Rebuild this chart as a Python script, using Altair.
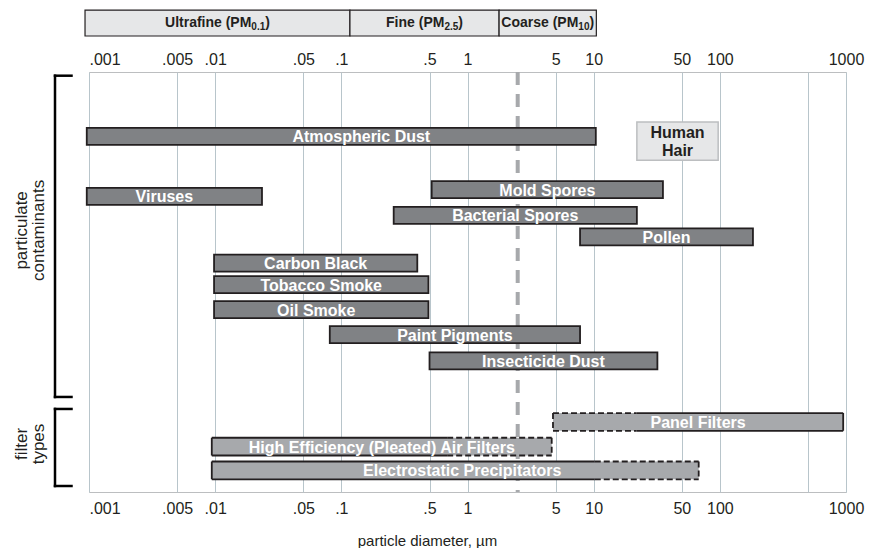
import altair as alt
import pandas as pd

# ---------------- data ----------------
tick_values = [0.001, 0.005, 0.01, 0.05, 0.1, 0.5, 1, 5, 10, 50, 100, 1000]
tick_labels = [".001", ".005", ".01", ".05", ".1", ".5", "1", "5", "10", "50", "100", "1000"]
unlabeled_grid = [500]

size_classes = ["Ultrafine", "Fine", "Coarse"]
class_pm = ["0.1", "2.5", "10"]
class_low = [0.00093, 0.117, 1.78]
class_high = [0.117, 1.78, 10.5]

contaminants = ["Atmospheric Dust", "Viruses", "Mold Spores", "Bacterial Spores", "Pollen",
                "Carbon Black", "Tobacco Smoke", "Oil Smoke", "Paint Pigments", "Insecticide Dust"]
cont_low = [0.00096, 0.00096, 0.52, 0.26, 7.8, 0.0098, 0.0098, 0.0098, 0.081, 0.5]
cont_high = [10.4, 0.0235, 35.4, 22, 183, 0.40, 0.49, 0.49, 7.8, 32]
cont_row = [2.68, 5.18, 4.90, 5.97, 6.87, 7.96, 8.86, 9.90, 10.94, 12.04]

hair_label = ["Human", "Hair"]
hair_low = [22]
hair_high = [97]
hair_row = [2.88]

filters = ["Panel Filters", "High Efficiency (Pleated) Air Filters", "Electrostatic Precipitators"]
filter_low = [4.76, 0.0094, 0.0094]
filter_high = [950, 4.65, 68]
filter_solid_low = [21.9, 0.0094, 0.0094]
filter_solid_high = [950, 0.69, 10.2]
filter_row = [14.58, 15.61, 16.60]

groups = ["particulate\ncontaminants", "filter\ntypes"]
group_top = [0.154, 14.04]
group_bottom = [13.54, 17.25]
group_mid = [6.6, 15.5]

pm_cut = [2.5]

# ---------------- style ----------------
FONT = "Liberation Sans"
INK = "#231f20"
CONT_FILL = "#808285"
FILT_FILL = "#a7a9ac"
LIGHT = "#e6e7e8"
GRID = "#b8c5cb"
HEADER_ROW = -2.04
HEADER_HALF = 0.54
BAR_HALF = 0.354
FILT_HALF = 0.37
HAIR_HALF = 0.80
HDR_SIZE = 14
SUB_SIZE = 10
label_dx = {"Atmospheric Dust": 20, "Viruses": -10, "Oil Smoke": -5, "Electrostatic Precipitators": 7}

# Arial/Liberation Sans Bold advance widths (1/1000 em) for the header strings
ADV = {"U": 722, "l": 278, "t": 333, "r": 389, "a": 556, "f": 333, "i": 278, "n": 611, "e": 556,
       " ": 278, "(": 333, ")": 333, "P": 667, "M": 833, "F": 611, "C": 722, "o": 611, "s": 556,
       ".": 278}


def text_w(s, size):
    return sum(ADV.get(ch, 556) for ch in s) / 1000.0 * size


x_scale = alt.Scale(type="log", domain=[0.001, 1000], nice=False)
y_scale = alt.Scale(domain=[0, 17.5], reverse=True, nice=False, zero=False)

all_ticks = tick_values + unlabeled_grid
label_expr = ("indexof(%s, datum.value) >= 0 ? %s[indexof(%s, datum.value)] : ''"
              % (str(tick_values), str(tick_labels), str(tick_values)))
flush_first = {"condition": {"test": "datum.value <= 0.001", "value": "left"}, "value": "center"}

top_axis = alt.Axis(orient="top", values=all_ticks, labelExpr=label_expr, grid=True,
                    gridColor=GRID, gridWidth=1, ticks=False, domain=False,
                    labelFont=FONT, labelFontSize=16, labelColor=INK, labelPadding=8,
                    labelBaseline="alphabetic", labelFlush=False, labelAlign=flush_first,
                    title=None)
bottom_axis = alt.Axis(orient="bottom", values=tick_values, labelExpr=label_expr, grid=False,
                       ticks=False, domain=False, labelFont=FONT, labelFontSize=16,
                       labelColor=INK, labelPadding=8, labelFlush=False, labelAlign=flush_first,
                       title="particle diameter, µm", titleFont=FONT, titleFontSize=15,
                       titleFontWeight="normal", titleColor=INK, titleX=338, titleY=53,
                       titleAlign="center", titleBaseline="alphabetic")

# ---------------- frames ----------------
cont_df = pd.DataFrame({"name": contaminants, "lo": cont_low, "hi": cont_high, "row": cont_row})
cont_df["y0"] = cont_df["row"] - BAR_HALF
cont_df["y1"] = cont_df["row"] + BAR_HALF

hdr_df = pd.DataFrame({"name": size_classes, "pm": class_pm, "lo": class_low, "hi": class_high})
hdr_df["row"] = HEADER_ROW
hdr_df["y0"] = HEADER_ROW - HEADER_HALF
hdr_df["y1"] = HEADER_ROW + HEADER_HALF

hair_df = pd.DataFrame({"name": ["\n".join(hair_label)], "lo": hair_low, "hi": hair_high, "row": hair_row})
hair_df["y0"] = hair_df["row"] - HAIR_HALF
hair_df["y1"] = hair_df["row"] + HAIR_HALF

filt_df = pd.DataFrame({"name": filters, "lo": filter_low, "hi": filter_high, "row": filter_row})
filt_df["y0"] = filt_df["row"] - FILT_HALF
filt_df["y1"] = filt_df["row"] + FILT_HALF

edges = []
for i, nm in enumerate(filters):
    lo, hi = filter_low[i], filter_high[i]
    slo, shi = filter_solid_low[i], filter_solid_high[i]
    top, bot = filter_row[i] - FILT_HALF, filter_row[i] + FILT_HALF
    segs = []
    if lo < slo:
        segs.append((lo, slo, "dashed"))
    segs.append((slo, shi, "solid"))
    if shi < hi:
        segs.append((shi, hi, "dashed"))
    for a, b, st in segs:
        edges.append({"x": a, "x2": b, "y": top, "y2": top, "style": st})
        edges.append({"x": a, "x2": b, "y": bot, "y2": bot, "style": st})
    edges.append({"x": lo, "x2": lo, "y": top, "y2": bot, "style": segs[0][2]})
    edges.append({"x": hi, "x2": hi, "y": top, "y2": bot, "style": segs[-1][2]})
edge_df = pd.DataFrame(edges)

grp_df = pd.DataFrame({"name": groups, "top": group_top, "bottom": group_bottom, "mid": group_mid})
cut_df = pd.DataFrame({"v": pm_cut})


# ---------------- layers ----------------
def X(f, ax=None):
    return alt.X(f, type="quantitative", scale=x_scale, axis=ax)


def Y(f):
    return alt.Y(f, type="quantitative", scale=y_scale, axis=None)


cut = alt.Chart(cut_df).mark_rule(color=FILT_FILL, strokeWidth=4, strokeDash=[13, 9]).encode(
    x=X("v", top_axis))

cont_rect = alt.Chart(cont_df).mark_rect(fill=CONT_FILL, stroke=INK, strokeWidth=1.8).encode(
    x=X("lo"), x2="hi", y=Y("y0"), y2="y1")

filt_rect = alt.Chart(filt_df).mark_rect(fill=FILT_FILL, strokeWidth=0).encode(
    x=X("lo", bottom_axis), x2="hi", y=Y("y0"), y2="y1")

filt_edges = alt.Chart(edge_df).mark_rule(color=INK, strokeWidth=1.8).encode(
    x=X("x"), x2="x2", y=Y("y"), y2="y2",
    strokeDash=alt.StrokeDash("style:N", scale=alt.Scale(domain=["solid", "dashed"],
                                                         range=[[1, 0], [6, 3]]), legend=None))

hair_rect = alt.Chart(hair_df).mark_rect(fill=LIGHT, stroke="#bcbec0", strokeWidth=1.5).encode(
    x=X("lo"), x2="hi", y=Y("y0"), y2="y1")
hair_text = alt.Chart(hair_df).transform_calculate(mid="sqrt(datum.lo*datum.hi)").mark_text(
    font=FONT, fontSize=16, fontWeight="bold", color=INK, lineBreak="\n", lineHeight=17.5,
    align="center", baseline="middle", dy=-8).encode(x=X("mid:Q"), y=Y("row"), text="name:N")

hdr_rect = alt.Chart(hdr_df).mark_rect(fill=LIGHT, stroke=INK, strokeWidth=1.2).encode(
    x=X("lo"), x2="hi", y=Y("y0"), y2="y1")

hdr_layers = []
for i, nm in enumerate(size_classes):
    main = nm + " (PM"
    sub = class_pm[i]
    wm, ws, wp = text_w(main, HDR_SIZE), text_w(sub, SUB_SIZE), text_w(")", HDR_SIZE)
    start = -(wm + ws + wp) / 2.0
    one = hdr_df.iloc[[i]].copy()
    one["main"] = main
    one["paren"] = ")"
    base = alt.Chart(one).transform_calculate(mid="sqrt(datum.lo*datum.hi)")
    hdr_layers.append(base.mark_text(font=FONT, fontSize=HDR_SIZE, fontWeight="bold", color=INK,
                                     align="right", baseline="middle", dx=start + wm).encode(
        x=X("mid:Q"), y=Y("row"), text="main:N"))
    hdr_layers.append(base.mark_text(font=FONT, fontSize=SUB_SIZE, fontWeight="bold", color=INK,
                                     align="left", baseline="middle", dx=start + wm, dy=4).encode(
        x=X("mid:Q"), y=Y("row"), text="pm:N"))
    hdr_layers.append(base.mark_text(font=FONT, fontSize=HDR_SIZE, fontWeight="bold", color=INK,
                                     align="left", baseline="middle", dx=start + wm + ws).encode(
        x=X("mid:Q"), y=Y("row"), text="paren:N"))

bar_labels = pd.concat([cont_df[["name", "lo", "hi", "row"]], filt_df[["name", "lo", "hi", "row"]]],
                       ignore_index=True)
bar_labels["dx"] = bar_labels["name"].map(lambda n: label_dx.get(n, 0))
text_layers = []
for d in sorted(bar_labels["dx"].unique()):
    sub_df = bar_labels[bar_labels["dx"] == d]
    text_layers.append(
        alt.Chart(sub_df).transform_calculate(mid="sqrt(datum.lo*datum.hi)").mark_text(
            font=FONT, fontSize=16, fontWeight="bold", color="white", align="center",
            baseline="middle", dx=int(d), dy=1).encode(x=X("mid:Q"), y=Y("row"), text="name:N"))

br_v = alt.Chart(grp_df).mark_rule(color="black", strokeWidth=2.5, strokeCap="square").encode(
    x=alt.value(-34), y=Y("top"), y2="bottom")
br_t = alt.Chart(grp_df).mark_rule(color="black", strokeWidth=2.5, strokeCap="square").encode(
    x=alt.value(-34), x2=alt.value(-17.5), y=Y("top"))
br_b = alt.Chart(grp_df).mark_rule(color="black", strokeWidth=2.5, strokeCap="square").encode(
    x=alt.value(-34), x2=alt.value(-17.5), y=Y("bottom"))
br_text = alt.Chart(grp_df).mark_text(font=FONT, fontSize=17, color=INK, angle=270,
                                      lineBreak="\n", lineHeight=17, align="center",
                                      baseline="middle").encode(
    x=alt.value(-67), y=Y("mid"), text="name:N")

chart = alt.layer(
    cut, cont_rect, filt_rect, filt_edges, hair_rect, hair_text, hdr_rect, *hdr_layers,
    *text_layers, br_v, br_t, br_b, br_text
).resolve_axis(x="independent").properties(
    width=757, height=420,
    autosize=alt.AutoSizeParams(type="none"),
    padding={"left": 81, "top": 64, "right": 23, "bottom": 56},
).configure_view(stroke="#bcbec0", strokeWidth=1)

chart.save("out.html", embed_options={"renderer": "svg", "actions": False})
